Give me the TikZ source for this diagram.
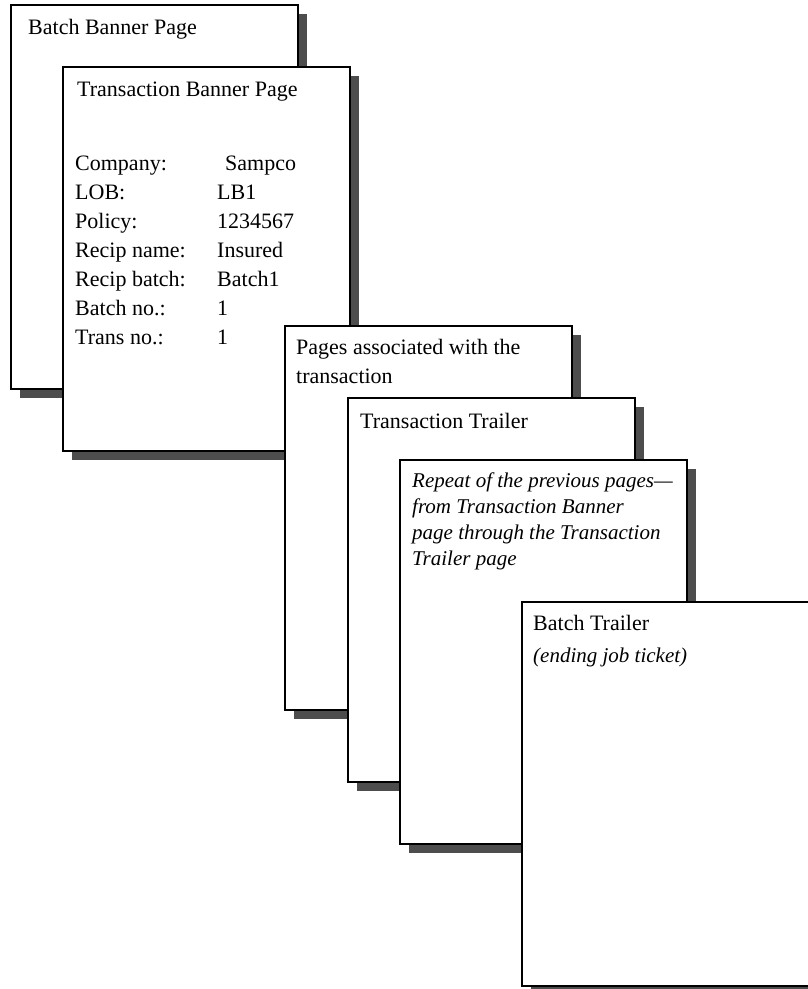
\documentclass[tikz,border=0pt]{standalone}
\usepackage{fontspec}
\setmainfont{Liberation Serif}
\usetikzlibrary{shadows}
\definecolor{shadowgray}{HTML}{4D4D4D}
\tikzset{
  sheet/.style={draw, line width=2pt, fill=white, anchor=north west, inner sep=0pt,
    minimum width=287pt, minimum height=384pt,
    drop shadow={shadow xshift=9pt, shadow yshift=-9pt, fill=shadowgray, opacity=1}},
  txt/.style={anchor=base west, inner sep=0pt, align=left, font=\fontsize{22}{29}\selectfont},
  note/.style={txt, font=\fontsize{21}{26}\selectfont\itshape},
}

\begin{document}
\begin{tikzpicture}[x=1pt, y=-1pt]
		\useasboundingbox (0,0) rectangle (807,989);
		% pages, back to front (multi-line texts sit on their last baseline)
		\node[sheet] (bbp) at (10,4) {};
		\node[txt] (bbp-title) at (28,34) {Batch Banner Page};
		
		\node[sheet] (tbp) at (62,66) {};
		\node[txt] (tbp-title) at (77,96) {Transaction Banner Page};
		\foreach \lab/\val/\dx [count=\i] in {Company:/Sampco/8, LOB:/LB1/0, Policy:/1234567/0,
			Recip name:/Insured/0, Recip batch:/Batch1/0, Batch no.:/1/0, Trans no.:/1/0}
		{
			\node[txt] (lab-\i) at (75,141+29*\i) {\lab};
			\node[txt] (val-\i) at (217+\dx,141+29*\i) {\val};
		}
		
		\node[sheet] (assoc) at (284,325) {};
		\node[txt] (assoc-text) at (296,383) {Pages associated with the\\transaction};
		
		\node[sheet] (ttr) at (347,397) {};
		\node[txt] (ttr-title) at (360,428) {Transaction Trailer};
		
		\node[sheet] (rep) at (399,459) {};
		\node[note] (rep-text) at (412,565) {Repeat of the previous pages---\\from Transaction Banner\\page through the Transaction\\Trailer page};
		
		\node[sheet] (btr) at (521,601) {};
		\node[txt] (btr-title) at (533,630) {Batch Trailer};
		\node[note] (btr-note) at (533,662) {(ending job ticket)};
	\end{tikzpicture}
\end{document}
